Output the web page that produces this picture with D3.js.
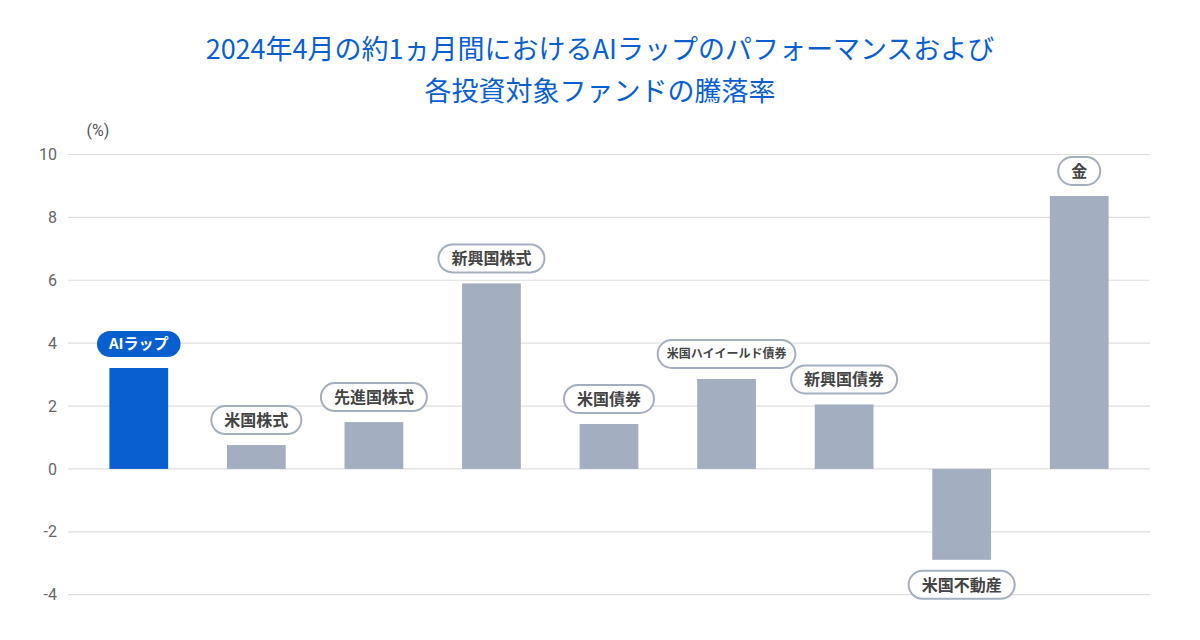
<!DOCTYPE html>
<html>
<head>
<meta charset="utf-8">
<script src="https://cdn.jsdelivr.net/npm/d3@7"></script>
<style>
  body { margin: 0; background: #fff; }
  svg { display: block; font-family: "Noto Sans CJK JP", "Noto Sans", sans-serif; }
</style>
</head>
<body>
<div id="chart"></div>
<script>
const categories = ['AIラップ', '米国株式', '先進国株式', '新興国株式', '米国債券', '米国ハイイールド債券', '新興国債券', '米国不動産', '金'];
const values = [3.21, 0.76, 1.49, 5.90, 1.43, 2.86, 2.05, -2.89, 8.68];
const yTicks = [10, 8, 6, 4, 2, 0, -2, -4];
const titleLines = ['2024年4月の約1ヵ月間におけるAIラップのパフォーマンスおよび', '各投資対象ファンドの騰落率'];
const unitLabel = '(%)';

const width = 1200, height = 640;
const blue = '#0a5fd0', grey = '#a3aec1';

const svg = d3.select('#chart').append('svg')
  .attr('width', width)
  .attr('height', height);

// title
svg.selectAll('.title')
  .data(titleLines)
  .enter()
  .append('text')
  .attr('class', 'title')
  .attr('x', 600)
  .attr('y', (d, i) => 59 + i * 42)
  .attr('text-anchor', 'middle')
  .style('font-size', '27px')
  .style('fill', blue)
  .text(d => d);

const x = d3.scaleBand()
  .domain(categories)
  .range([80, 1138])
  .paddingInner(0.5)
  .paddingOuter(0.25);

const y = d3.scaleLinear()
  .domain([-4, 10])
  .range([594.7, 154.5]);

// grid
svg.append('g')
  .selectAll('line')
  .data(yTicks)
  .enter()
  .append('line')
  .attr('x1', 68)
  .attr('x2', 1150)
  .attr('y1', d => y(d))
  .attr('y2', d => y(d))
  .attr('stroke', '#dedede')
  .attr('stroke-width', 1.2);

const yAxis = svg.append('g')
  .attr('transform', 'translate(57,0)')
  .call(d3.axisLeft(y).tickValues(yTicks).tickSize(0).tickPadding(0).tickFormat(d => String(d)));
yAxis.select('.domain').remove();
yAxis.selectAll('text')
  .style('font-family', 'Roboto, "Noto Sans", sans-serif')
  .style('font-size', '16px')
  .style('fill', '#666');

svg.append('text')
  .attr('x', 98)
  .attr('y', 136)
  .attr('text-anchor', 'middle')
  .style('font-family', 'Roboto, "Noto Sans", sans-serif')
  .style('font-size', '16px')
  .style('fill', '#555')
  .text(unitLabel);

// bars
svg.append('g')
  .selectAll('rect')
  .data(categories)
  .enter()
  .append('rect')
  .attr('x', d => x(d))
  .attr('width', x.bandwidth())
  .attr('y', (d, i) => y(Math.max(0, values[i])))
  .attr('height', (d, i) => Math.abs(y(values[i]) - y(0)))
  .attr('fill', (d, i) => i === 0 ? blue : grey);

// pill labels
const labels = svg.append('g')
  .selectAll('g')
  .data(categories)
  .enter()
  .append('g');

labels.each(function(d, i) {
  const g = d3.select(this);
  const isAI = i === 0;
  const long = d.length > 6;
  const fs = long ? 12 : (isAI ? 15 : 16);
  const h = isAI ? 26 : 28;
  const cx = x(d) + x.bandwidth() / 2;
  const v = values[i];
  const cy = v >= 0 ? y(v) - 11 - h / 2 : y(v) + 11 + h / 2;

  const rect = g.append('rect');
  const t = g.append('text')
    .attr('x', cx)
    .attr('y', cy)
    .attr('dy', '0.36em')
    .attr('text-anchor', 'middle')
    .style('font-size', fs + 'px')
    .style('font-weight', 700)
    .style('fill', isAI ? '#fff' : '#444')
    .text(d);
  const w = t.node().getComputedTextLength() + (isAI ? 24 : (long ? 18 : 26));
  rect.attr('x', cx - w / 2)
    .attr('y', cy - h / 2)
    .attr('width', w)
    .attr('height', h)
    .attr('rx', h / 2)
    .attr('fill', isAI ? blue : '#fff')
    .attr('stroke', isAI ? 'none' : '#a3aec1')
    .attr('stroke-width', 2);
});
</script>
</body>
</html>
